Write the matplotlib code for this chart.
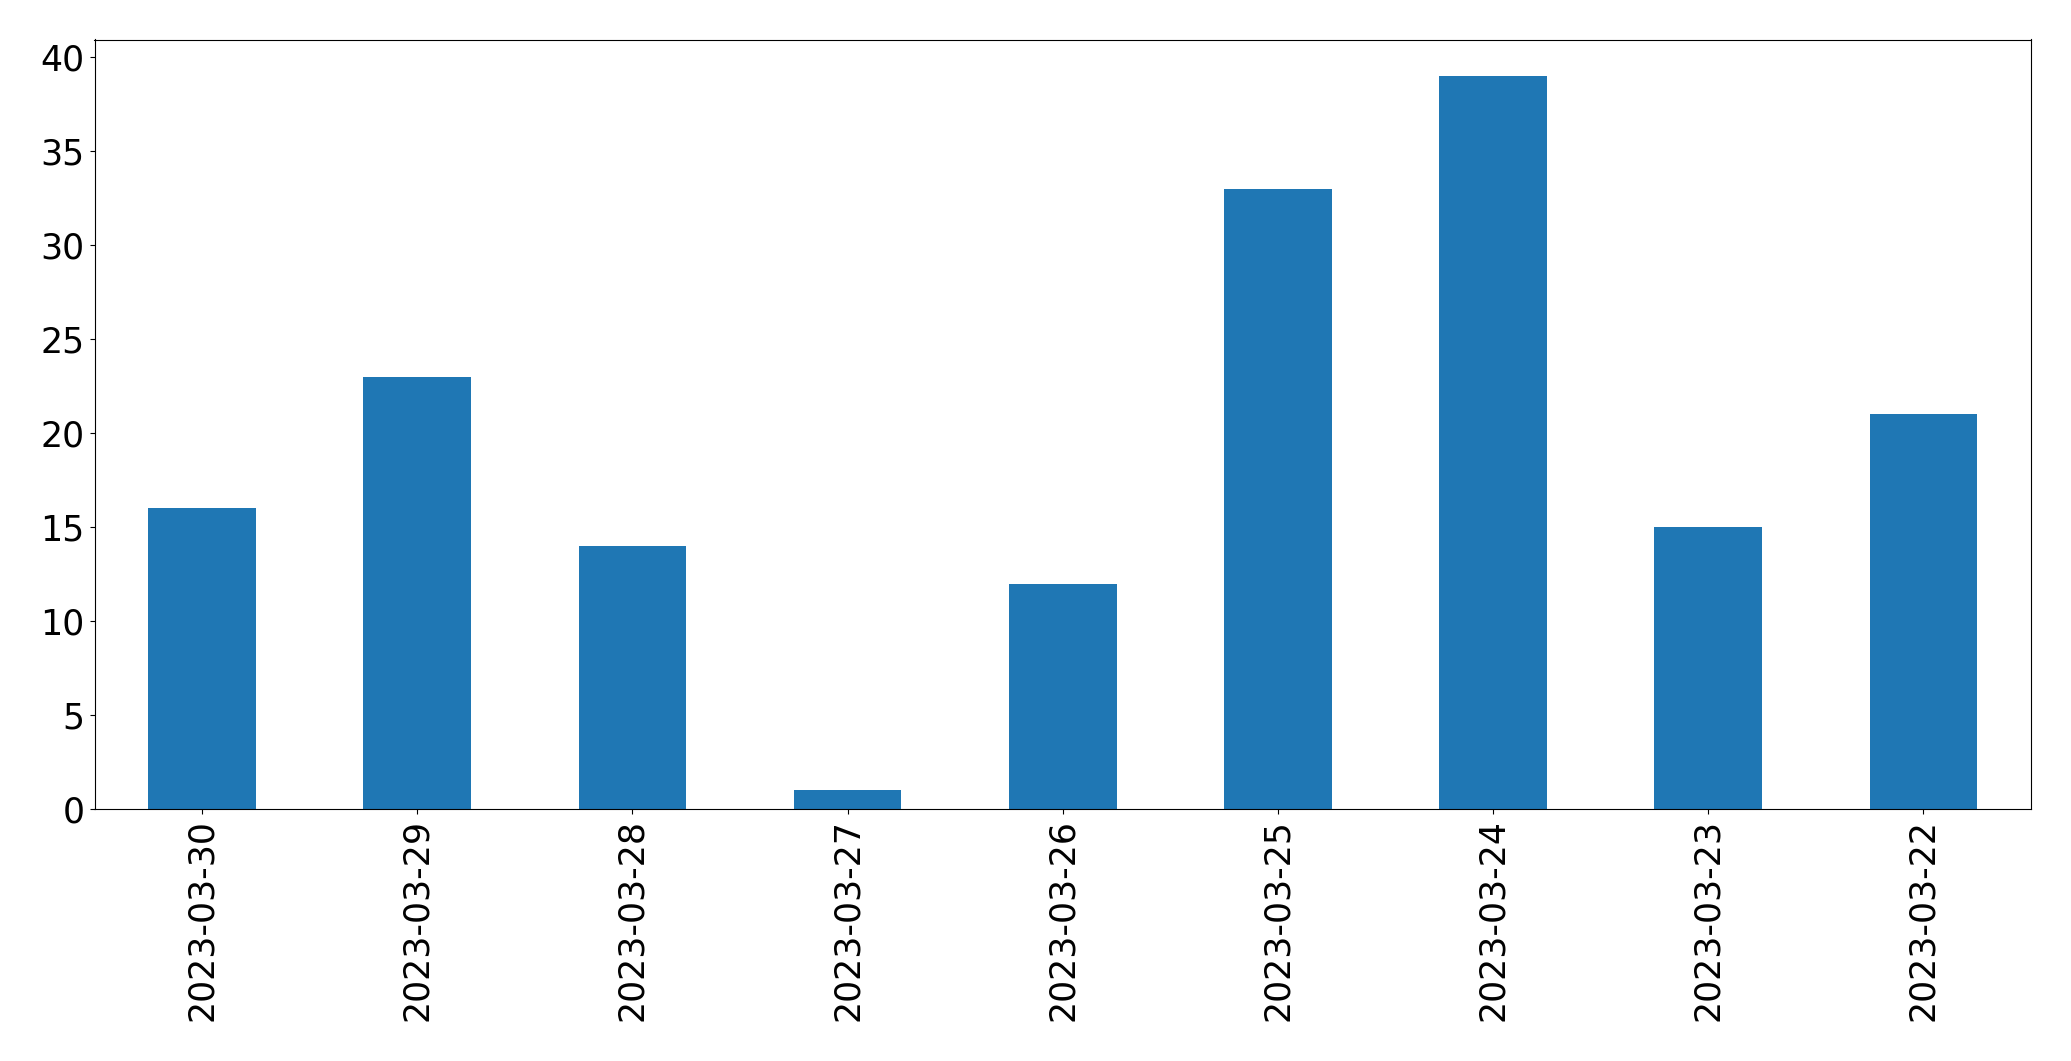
import matplotlib
matplotlib.use("Agg")
import matplotlib.pyplot as plt
import pandas as pd

# data
dates = ["2023-03-30", "2023-03-29", "2023-03-28", "2023-03-27", "2023-03-26",
         "2023-03-25", "2023-03-24", "2023-03-23", "2023-03-22"]
counts = [16, 23, 14, 1, 12, 33, 39, 15, 21]

s = pd.Series(counts, index=dates)

fig = plt.figure(figsize=(20.71, 10.61), dpi=100)
ax = fig.add_subplot(111)
s.plot(kind="bar", ax=ax, fontsize=25)
fig.subplots_adjust(left=94.5 / 2071, right=2031 / 2071,
                    top=1 - 39.5 / 1061, bottom=1 - 809 / 1061)

fig.savefig("out.png", dpi=100)
